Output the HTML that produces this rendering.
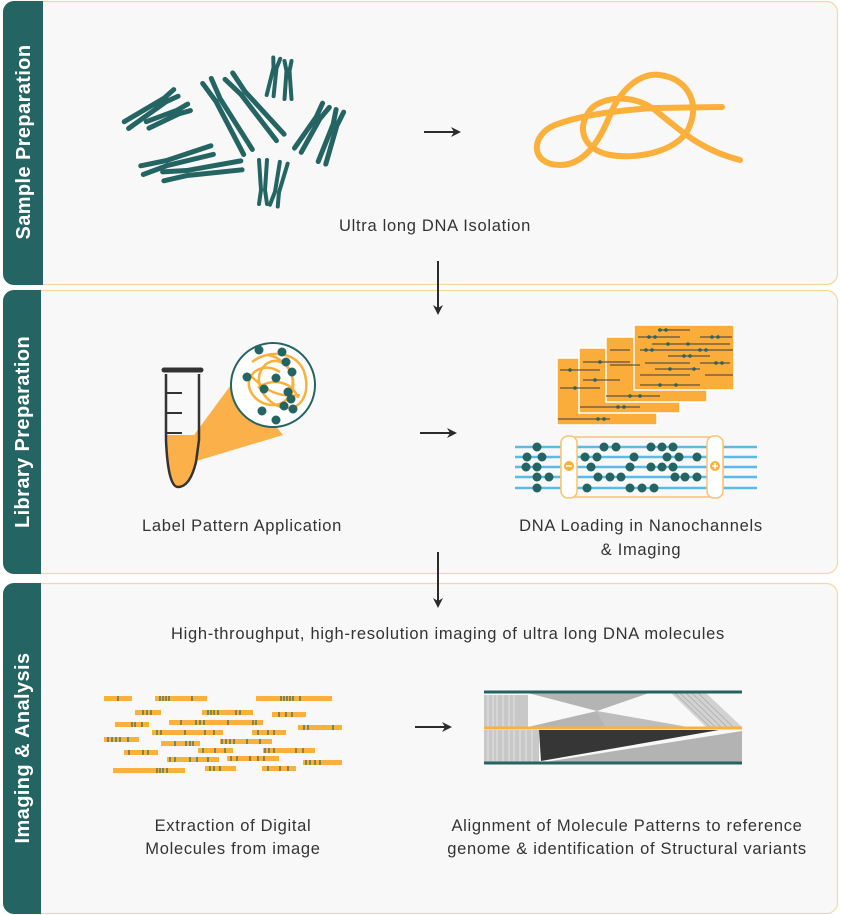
<!DOCTYPE html>
<html><head><meta charset="utf-8"><style>
html,body{margin:0;padding:0;background:#fff;}
svg{display:block;}
text{font-family:"Liberation Sans",sans-serif;}
</style></head><body>
<svg width="841" height="915" viewBox="0 0 841 915" xmlns="http://www.w3.org/2000/svg">
<defs>
<marker id="ah" markerWidth="10" markerHeight="10" refX="8" refY="5" orient="auto" markerUnits="userSpaceOnUse"><path d="M0,0 L10,5 L0,10 L3,5 Z" fill="#2b2b2b"/></marker>
</defs>
<!-- panels -->
<g stroke="#f9d79a" stroke-width="1.2" fill="#f8f8f8">
<rect x="3.5" y="1.5" width="834" height="283" rx="11"/>
<rect x="3.5" y="290.5" width="834" height="283" rx="11"/>
<rect x="3.5" y="583.5" width="834" height="330" rx="11"/>
</g>
<g fill="#246462">
<path d="M14,1 H43 V285 H14 A11,11 0 0 1 3,274 V12 A11,11 0 0 1 14,1Z"/>
<path d="M14,290 H41 V574 H14 A11,11 0 0 1 3,563 V301 A11,11 0 0 1 14,290Z"/>
<path d="M14,583 H41 V914 H14 A11,11 0 0 1 3,903 V594 A11,11 0 0 1 14,583Z"/>
</g>
<g fill="#fff" font-weight="bold" font-size="20" letter-spacing="0.4" text-anchor="middle">
<text transform="translate(30,142) rotate(-90)">Sample Preparation</text>
<text transform="translate(29,432) rotate(-90)">Library Preparation</text>
<text transform="translate(29,748) rotate(-90)">Imaging &amp; Analysis</text>
</g>
<!-- labels -->
<g fill="#333" font-size="16.5" letter-spacing="0.7" text-anchor="middle">
<text x="435" y="231">Ultra long DNA Isolation</text>
<text x="242" y="531">Label Pattern Application</text>
<text x="641" y="531">DNA Loading in Nanochannels</text>
<text x="641" y="555">&amp; Imaging</text>
<text x="448" y="639">High-throughput, high-resolution imaging of ultra long DNA molecules</text>
<text x="233" y="831">Extraction of Digital</text>
<text x="233" y="854">Molecules from image</text>
<text x="627" y="831">Alignment of Molecule Patterns to reference</text>
<text x="627" y="854">genome &amp; identification of Structural variants</text>
</g>
<!-- arrows -->
<g stroke="#2b2b2b" stroke-width="2" marker-end="url(#ah)">
<line x1="424" y1="132" x2="459" y2="132"/>
<line x1="420" y1="433" x2="455" y2="433"/>
<line x1="415" y1="727" x2="450" y2="727"/>
<line x1="438" y1="261" x2="438" y2="313"/>
<line x1="438" y1="552" x2="438" y2="606"/>
</g>
<!-- chromosomes -->
<g stroke="#246462" stroke-width="5" stroke-linecap="round" fill="none">
<g transform="translate(165,100) rotate(57)"><path d="M-4,-13 L-2,0 L-4,46 M4,-13 L2,0 L4,46"/></g>
<g transform="translate(178,112) rotate(67)"><path d="M-3.5,-12 L-2,0 L-3.5,33 M3.5,-12 L2,0 L3.5,33"/></g>
<g transform="translate(218,100) rotate(-30)"><path d="M-5,-22 L-2.5,0 L-5,60 M5,-22 L2.5,0 L5,60"/></g>
<g transform="translate(243,93) rotate(-40)"><path d="M-5,-22 L-2.5,0 L-5,58 M5,-22 L2.5,0 L5,58"/></g>
<g transform="translate(275,68) rotate(10)" stroke-width="4"><path d="M-3.5,-10 L-1.5,0 L-3.5,28 M3.5,-10 L1.5,0 L3.5,28"/></g>
<g transform="translate(288,71) rotate(0)" stroke-width="4"><path d="M-3.5,-10 L-1.5,0 L-3.5,28 M3.5,-10 L1.5,0 L3.5,28"/></g>
<g transform="translate(318,118) rotate(32)"><path d="M-4,-15 L-2,0 L-4,38 M4,-15 L2,0 L4,38"/></g>
<g transform="translate(335,125) rotate(19)"><path d="M-4,-15 L-2,0 L-4,40 M4,-15 L2,0 L4,40"/></g>
<g transform="translate(167,163) rotate(-106)"><path d="M-4.5,-26 L-2.5,0 L-4.5,47 M4.5,-26 L2.5,0 L4.5,47"/></g>
<g transform="translate(187,173) rotate(-98)"><path d="M-4.5,-24 L-2.5,0 L-4.5,55 M4.5,-24 L2.5,0 L4.5,55"/></g>
<g transform="translate(263,190) rotate(180)" stroke-width="4"><path d="M-4,-14 L-2,0 L-4,30 M4,-14 L2,0 L4,30"/></g>
<g transform="translate(277,192) rotate(193)" stroke-width="4"><path d="M-4,-14 L-2,0 L-4,30 M4,-14 L2,0 L4,30"/></g>
</g>
<!-- knot -->
<path d="M722,107 L655,108 C620,110 580,115 555,125 C530,135 530,165 560,165 C585,165 600,140 610,115 C620,90 640,72 660,75 C685,78 700,100 690,125 C682,150 640,160 610,155 C585,150 575,130 590,110 C600,98 630,92 655,110 C680,130 700,150 740,160" fill="none" stroke="#fbb03b" stroke-width="6" stroke-linecap="round"/>
<!-- tube -->
<polygon points="194,435 193,462 283,435 236,378" fill="#fcb04a"/>
<path d="M166,435 H199 L196,462 Q190,487 178,487 Q170,487 168,462 Z" fill="#fcb04a"/>
<path d="M166,374 V440 Q168,487 178,487 Q190,487 196,462 L199,440 V374" fill="none" stroke="#333" stroke-width="2.5"/>
<path d="M164,370 H201" stroke="#333" stroke-width="5" stroke-linecap="round"/>
<g stroke="#333" stroke-width="2"><line x1="166" y1="393" x2="182" y2="393"/><line x1="166" y1="413" x2="182" y2="413"/><line x1="166" y1="433" x2="182" y2="433"/></g>
<circle cx="273" cy="385" r="42" fill="#fff" stroke="#246462" stroke-width="2"/>
<g fill="none" stroke="#fbb03b" stroke-width="2.5">
<path d="M252,362 C270,348 300,352 305,375 C310,395 300,410 285,408 C265,405 250,380 265,365 C280,352 300,372 290,395 C282,410 258,408 250,390 C244,375 262,360 280,372"/>
<path d="M258,388 C270,378 292,380 298,398 M268,355 C290,360 300,380 288,402 M250,375 C265,390 278,398 300,395"/>
</g>
<g fill="#246462">
<circle cx="259" cy="350" r="4.5"/><circle cx="282" cy="352" r="4.5"/><circle cx="286" cy="362" r="4.5"/><circle cx="247" cy="377" r="4.5"/><circle cx="276" cy="378" r="4.5"/><circle cx="292" cy="372" r="4.5"/><circle cx="264" cy="389" r="4.5"/><circle cx="288" cy="392" r="4.5"/><circle cx="291" cy="399" r="4.5"/><circle cx="284" cy="406" r="4.5"/><circle cx="293" cy="409" r="4.5"/><circle cx="262" cy="411" r="4.5"/><circle cx="276" cy="420" r="4.5"/>
</g>
<!-- sheets -->
<g stroke="#fff" stroke-width="1.5" fill="#fbad3c">
<rect x="557" y="358" width="100" height="67"/>
<rect x="579" y="348" width="101" height="65"/>
<rect x="606" y="337" width="101" height="65"/>
<rect x="634" y="325" width="100" height="65"/>
</g>
<g stroke="#3a3a3a" stroke-width="1">
<line x1="558" y1="419" x2="610" y2="419"/><line x1="580" y1="407" x2="640" y2="407"/><line x1="606" y1="396" x2="660" y2="396"/>
<line x1="658" y1="330" x2="690" y2="330"/><line x1="638" y1="337" x2="680" y2="337"/><line x1="700" y1="337" x2="732" y2="337"/>
<line x1="652" y1="344" x2="730" y2="344"/><line x1="640" y1="350" x2="733" y2="350"/><line x1="668" y1="356" x2="710" y2="356"/>
<line x1="645" y1="363" x2="690" y2="363"/><line x1="655" y1="369" x2="700" y2="369"/><line x1="700" y1="363" x2="730" y2="363"/>
<line x1="640" y1="375" x2="690" y2="375"/><line x1="705" y1="375" x2="733" y2="375"/><line x1="640" y1="385" x2="700" y2="385"/>
<line x1="560" y1="370" x2="600" y2="370"/><line x1="560" y1="388" x2="600" y2="388"/><line x1="583" y1="362" x2="630" y2="362"/><line x1="583" y1="380" x2="620" y2="380"/><line x1="610" y1="350" x2="630" y2="350"/><line x1="610" y1="365" x2="640" y2="365"/>
</g>
<g fill="#246462">
<circle cx="660" cy="330" r="1.8"/><circle cx="666" cy="330" r="1.8"/><circle cx="649" cy="337" r="1.8"/><circle cx="655" cy="337" r="1.8"/><circle cx="712" cy="337" r="1.8"/><circle cx="718" cy="337" r="1.8"/><circle cx="668" cy="344" r="1.8"/><circle cx="688" cy="344" r="1.8"/><circle cx="646" cy="350" r="1.8"/><circle cx="652" cy="350" r="1.8"/><circle cx="700" cy="350" r="1.8"/><circle cx="706" cy="350" r="1.8"/><circle cx="684" cy="356" r="1.8"/><circle cx="690" cy="356" r="1.8"/><circle cx="716" cy="363" r="1.8"/><circle cx="722" cy="363" r="1.8"/><circle cx="670" cy="369" r="1.8"/><circle cx="694" cy="369" r="1.8"/><circle cx="660" cy="385" r="1.8"/><circle cx="676" cy="385" r="1.8"/><circle cx="598" cy="419" r="1.8"/><circle cx="604" cy="419" r="1.8"/><circle cx="618" cy="407" r="1.8"/><circle cx="624" cy="407" r="1.8"/><circle cx="630" cy="396" r="1.8"/><circle cx="640" cy="396" r="1.8"/><circle cx="570" cy="370" r="1.8"/><circle cx="575" cy="388" r="1.8"/><circle cx="595" cy="380" r="1.8"/><circle cx="600" cy="362" r="1.8"/>
</g>
<!-- nanochannel -->
<g stroke="#5bbbe6" stroke-width="2.5">
<line x1="515" y1="447" x2="757" y2="447"/><line x1="515" y1="457" x2="757" y2="457"/><line x1="515" y1="467" x2="757" y2="467"/><line x1="515" y1="477" x2="757" y2="477"/><line x1="515" y1="488" x2="757" y2="488"/>
</g>
<rect x="561" y="437" width="162" height="60" rx="6" fill="none" stroke="#fbc36e" stroke-width="1.5"/>
<rect x="561" y="436" width="16" height="62" rx="7" fill="#fff" stroke="#fbc36e" stroke-width="1.5"/>
<rect x="707" y="436" width="16" height="62" rx="7" fill="#fff" stroke="#fbc36e" stroke-width="1.5"/>
<circle cx="569" cy="466" r="5" fill="#fbb03b"/><circle cx="715" cy="466" r="5" fill="#fbb03b"/>
<g stroke="#fff" stroke-width="1.5"><line x1="566" y1="466" x2="572" y2="466"/><line x1="712" y1="466" x2="718" y2="466"/><line x1="715" y1="463" x2="715" y2="469"/></g>
<g fill="#246462">
<circle cx="537" cy="447" r="4.5"/><circle cx="527" cy="457" r="4.5"/><circle cx="542" cy="457" r="4.5"/><circle cx="526" cy="467" r="4.5"/><circle cx="537" cy="467" r="4.5"/><circle cx="537" cy="477" r="4.5"/><circle cx="549" cy="477" r="4.5"/><circle cx="537" cy="488" r="4.5"/>
<circle cx="604" cy="447" r="4.5"/><circle cx="616" cy="447" r="4.5"/><circle cx="651" cy="447" r="4.5"/><circle cx="662" cy="447" r="4.5"/><circle cx="673" cy="447" r="4.5"/>
<circle cx="585" cy="457" r="4.5"/><circle cx="597" cy="457" r="4.5"/><circle cx="634" cy="457" r="4.5"/><circle cx="667" cy="457" r="4.5"/><circle cx="679" cy="457" r="4.5"/><circle cx="697" cy="457" r="4.5"/>
<circle cx="591" cy="467" r="4.5"/><circle cx="630" cy="467" r="4.5"/><circle cx="651" cy="467" r="4.5"/><circle cx="662" cy="467" r="4.5"/><circle cx="673" cy="467" r="4.5"/>
<circle cx="598" cy="477" r="4.5"/><circle cx="610" cy="477" r="4.5"/><circle cx="621" cy="477" r="4.5"/><circle cx="675" cy="477" r="4.5"/><circle cx="685" cy="477" r="4.5"/><circle cx="697" cy="477" r="4.5"/>
<circle cx="587" cy="488" r="4.5"/><circle cx="630" cy="488" r="4.5"/><circle cx="642" cy="488" r="4.5"/><circle cx="654" cy="488" r="4.5"/>
</g>
<!-- fragments -->
<g fill="#fbb03b">
<rect x="104" y="696" width="28" height="5"/><rect x="155" y="696" width="52" height="5"/><rect x="256" y="696" width="76" height="5"/>
<rect x="135" y="710" width="26" height="5"/><rect x="202" y="710" width="51" height="5"/><rect x="272" y="712" width="34" height="5"/>
<rect x="115" y="722" width="34" height="5"/><rect x="169" y="720" width="94" height="5"/><rect x="298" y="725" width="44" height="5"/>
<rect x="152" y="730" width="71" height="5"/><rect x="252" y="730" width="34" height="5"/>
<rect x="104" y="737" width="35" height="5"/><rect x="161" y="741" width="39" height="5"/><rect x="220" y="739" width="52" height="5"/>
<rect x="124" y="750" width="34" height="5"/><rect x="198" y="748" width="35" height="5"/><rect x="263" y="748" width="52" height="5"/>
<rect x="167" y="757" width="52" height="5"/><rect x="227" y="756" width="52" height="5"/><rect x="303" y="760" width="39" height="5"/>
<rect x="113" y="768" width="72" height="5"/><rect x="205" y="766" width="31" height="5"/><rect x="262" y="766" width="34" height="5"/>
</g>
<g stroke="#2a6a64" stroke-width="1.2">
<path d="M118,696v5M160,696v5M163,696v5M166,696v5M169,696v5M192,696v5M281,696v5M284,696v5M287,696v5M290,696v5M293,696v5M300,696v5
M143,710v5M147,710v5M151,710v5M208,710v5M211,710v5M214,710v5M218,710v5M236,710v5M240,710v5M279,712v5M286,712v5M292,712v5
M132,722v5M135,722v5M142,722v5M181,720v5M196,720v5M200,720v5M204,720v5M228,720v5M253,720v5M256,720v5M304,725v5M308,725v5M333,725v5
M157,730v5M161,730v5M185,730v5M205,730v5M214,730v5M258,730v5M268,730v5M274,730v5
M108,737v5M112,737v5M116,737v5M120,737v5M128,737v5M175,741v5M186,741v5M190,741v5M193,741v5M222,739v5M226,739v5M230,739v5M234,739v5M247,739v5M260,739v5
M129,750v5M143,750v5M148,750v5M203,748v5M215,748v5M225,748v5M265,748v5M269,748v5M274,748v5M296,748v5M303,748v5
M170,757v5M175,757v5M190,757v5M197,757v5M208,757v5M231,756v5M237,756v5M250,756v5M258,756v5M264,756v5M306,760v5M310,760v5M315,760v5M320,760v5
M157,768v5M160,768v5M163,768v5M167,768v5M210,766v5M214,766v5M220,766v5M268,766v5M280,766v5M288,766v5"/>
</g>
<!-- alignment -->
<g fill="#c8c8c8">
<rect x="484" y="695" width="44" height="33"/>
<rect x="484" y="730" width="55" height="32"/>
</g>
<g stroke="#e4e4e4" stroke-width="1"><path d="M488,695v67M493,695v67M497,695v67M503,695v67M509,695v67M514,695v67M520,730v32M526,730v32M532,730v32"/></g>
<polygon points="528,693 649,693 597,711" fill="#b4b4b4"/>
<polygon points="597,711 528,727 606,727" fill="#b4b4b4"/>
<polygon points="597,711 606,727 688,727" fill="#bdbdbd"/>
<polygon points="671,693 706,693 742,727 706,727" fill="#d2d2d2"/>
<g stroke="#a8a8a8" stroke-width="0.7"><path d="M675,693L710,727M680,693L715,727M686,693L721,727M692,693L727,727M698,693L733,727"/></g>
<polygon points="539,730 719,730 541,761" fill="#363636"/>
<polygon points="545,762 742,731 742,762" fill="#b3b3b3"/>
<line x1="484" y1="692" x2="742" y2="692" stroke="#246462" stroke-width="3"/>
<line x1="484" y1="728" x2="742" y2="728" stroke="#fbb03b" stroke-width="3"/>
<line x1="484" y1="763" x2="742" y2="763" stroke="#246462" stroke-width="3"/>
</svg>
</body></html>
